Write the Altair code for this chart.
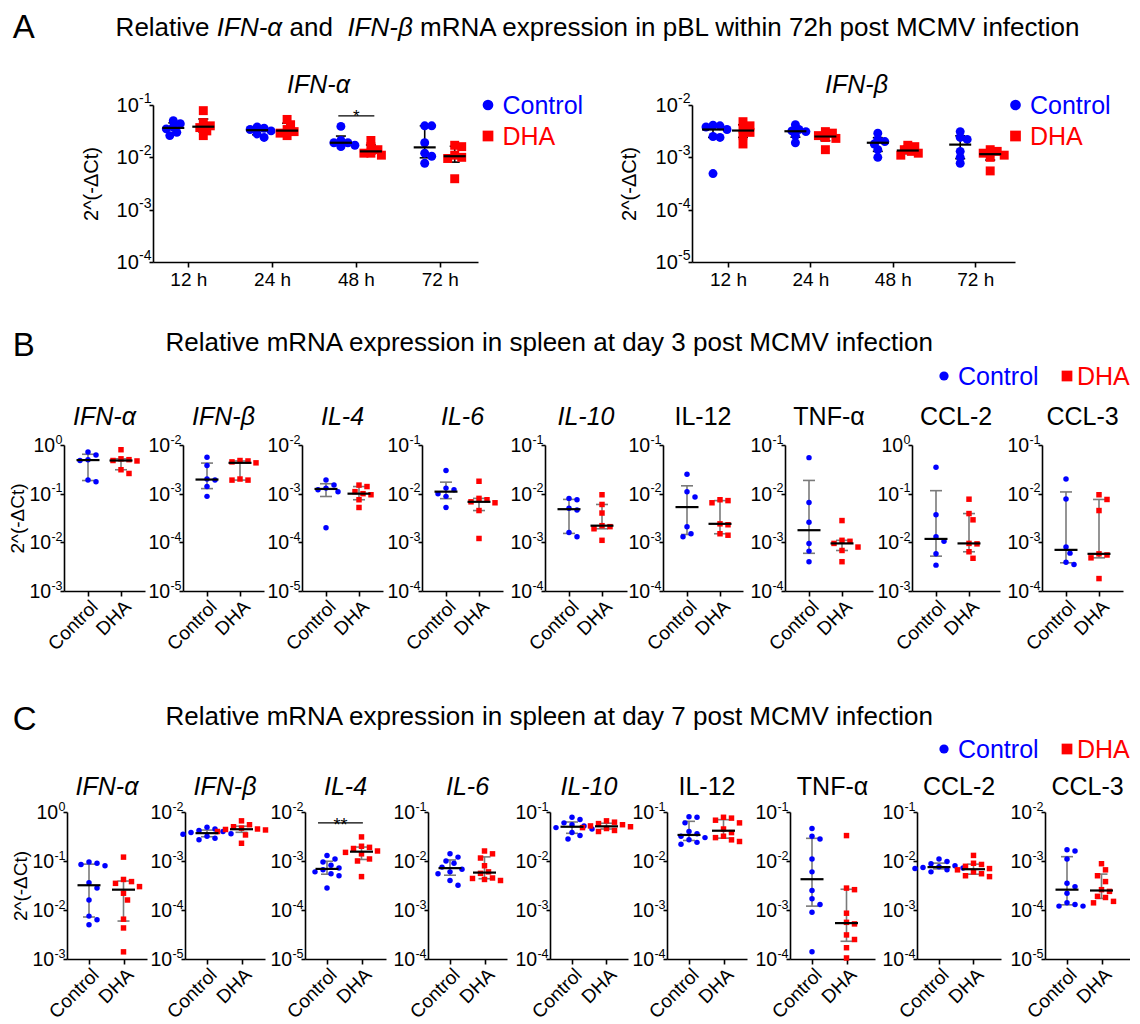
import math
import numpy as np
import pandas as pd
import altair as alt

FONT = "Liberation Sans, Arial, DejaVu Sans, sans-serif"

# ---------------- data ----------------
GROUPS = ["Control", "DHA"]
GROUP_COLORS = ["#0000FF", "#FF0000"]
GROUP_SHAPES = ["circle", "square"]
Y_TITLE = "2^(-ΔCt)"

A_TIMES = ["12 h", "24 h", "48 h", "72 h"]
A_GENES = ["IFN-α", "IFN-β"]
A_TOP_EXP = [-1, -2]
A_IFNA_CONTROL = [
    [0.050, 0.044, 0.038, 0.035, 0.030, 0.026],
    [0.038, 0.036, 0.034, 0.032, 0.028, 0.024],
    [0.039, 0.021, 0.019, 0.019, 0.017, 0.016],
    [0.040, 0.040, 0.019, 0.012, 0.0105, 0.0077],
]
A_IFNA_DHA = [
    [0.078, 0.046, 0.040, 0.037, 0.032, 0.026],
    [0.053, 0.042, 0.034, 0.031, 0.029, 0.026],
    [0.021, 0.016, 0.014, 0.012, 0.012, 0.011],
    [0.017, 0.016, 0.011, 0.010, 0.0095, 0.0039],
]
A_IFNB_CONTROL = [
    [0.0041, 0.0040, 0.0038, 0.0034, 0.0025, 0.0024, 0.00049],
    [0.0042, 0.0034, 0.0032, 0.0031, 0.0026, 0.0019],
    [0.0029, 0.0022, 0.0020, 0.0018, 0.0014, 0.0010],
    [0.0031, 0.0024, 0.0022, 0.0013, 0.0010, 0.00077],
]
A_IFNB_DHA = [
    [0.0048, 0.0040, 0.0035, 0.0030, 0.0026, 0.0018],
    [0.0031, 0.0029, 0.0026, 0.0024, 0.0023, 0.0014],
    [0.0017, 0.0016, 0.0014, 0.0013, 0.0012, 0.0011],
    [0.0014, 0.0013, 0.0012, 0.0011, 0.0010, 0.00055],
]
A_SIG_TIME = "48 h"
A_SIG_VALUE = 0.062
A_SIG_TEXT = "*"

GENES = ["IFN-α", "IFN-β", "IL-4", "IL-6", "IL-10", "IL-12", "TNF-α", "CCL-2", "CCL-3"]
GENE_ITALIC = [True, True, True, True, True, False, False, False, False]
B_TOP_EXP = [0, -2, -2, -1, -1, -1, -1, 0, -1]
C_TOP_EXP = [0, -2, -2, -1, -1, -1, -1, -1, -2]

B_CONTROL = [
    [0.72, 0.62, 0.50, 0.48, 0.19, 0.175],
    [0.0056, 0.0038, 0.0020, 0.0019, 0.0014, 0.00088],
    [0.0019, 0.0015, 0.0013, 0.0012, 0.0011, 0.0002],
    [0.030, 0.013, 0.012, 0.010, 0.0088, 0.0052],
    [0.0080, 0.0075, 0.0050, 0.0046, 0.0016, 0.0013],
    [0.025, 0.011, 0.0085, 0.0021, 0.0015, 0.0013],
    [0.055, 0.0066, 0.0026, 0.00095, 0.00066, 0.0004],
    [0.35, 0.037, 0.013, 0.0105, 0.0058, 0.0034],
    [0.020, 0.0078, 0.0008, 0.0006, 0.00039, 0.00035],
]
B_DHA = [
    [0.80, 0.52, 0.50, 0.48, 0.47, 0.31, 0.26],
    [0.0048, 0.0047, 0.0045, 0.0043, 0.0020, 0.0019, 0.0019],
    [0.0015, 0.0014, 0.0011, 0.0010, 0.00095, 0.00075, 0.00052],
    [0.018, 0.0080, 0.0075, 0.0068, 0.0065, 0.0045, 0.0012],
    [0.0095, 0.0060, 0.0040, 0.0022, 0.0021, 0.0019, 0.0011],
    [0.0075, 0.0072, 0.0065, 0.0024, 0.0023, 0.0015, 0.0014],
    [0.0028, 0.0011, 0.00105, 0.00095, 0.0008, 0.00068, 0.0004],
    [0.077, 0.039, 0.029, 0.0095, 0.0093, 0.0064, 0.0047],
    [0.0095, 0.0076, 0.0045, 0.00058, 0.00055, 0.00048, 0.00018],
]
C_CONTROL = [
    [0.095, 0.090, 0.085, 0.080, 0.036, 0.028, 0.016, 0.0075, 0.0063, 0.0050],
    [0.0049, 0.0045, 0.0042, 0.0040, 0.0038, 0.0036, 0.0035, 0.0032, 0.0029, 0.0027],
    [0.0013, 0.0011, 0.00095, 0.00082, 0.00072, 0.00066, 0.00060, 0.00055, 0.00050, 0.00028],
    [0.014, 0.012, 0.010, 0.0090, 0.0075, 0.0068, 0.0060, 0.0055, 0.0040, 0.0032],
    [0.078, 0.070, 0.060, 0.055, 0.052, 0.048, 0.045, 0.038, 0.033, 0.028],
    [0.080, 0.078, 0.060, 0.040, 0.036, 0.032, 0.030, 0.027, 0.024, 0.022],
    [0.046, 0.032, 0.028, 0.011, 0.0060, 0.0025, 0.0017, 0.0013, 0.0009, 0.00014],
    [0.011, 0.0098, 0.0088, 0.0080, 0.0076, 0.0074, 0.0072, 0.0070, 0.0066, 0.0060],
    [0.0017, 0.0016, 0.0011, 0.00035, 0.00030, 0.00022, 0.00014, 0.00013, 0.00012, 0.00012],
]
C_DHA = [
    [0.12, 0.042, 0.038, 0.035, 0.030, 0.022, 0.016, 0.0065, 0.0043, 0.0014],
    [0.0066, 0.0055, 0.0050, 0.0047, 0.0045, 0.0044, 0.0043, 0.0040, 0.0034, 0.0023],
    [0.0031, 0.0020, 0.0019, 0.0018, 0.0016, 0.0015, 0.0014, 0.0011, 0.0010, 0.00048],
    [0.016, 0.014, 0.0115, 0.0080, 0.0060, 0.0056, 0.0045, 0.0044, 0.0042, 0.0040],
    [0.066, 0.062, 0.058, 0.055, 0.052, 0.050, 0.048, 0.046, 0.042, 0.040],
    [0.078, 0.075, 0.068, 0.060, 0.045, 0.038, 0.032, 0.030, 0.027, 0.025],
    [0.033, 0.0028, 0.0026, 0.00086, 0.00056, 0.00052, 0.00031, 0.00025, 0.00017, 0.000105],
    [0.013, 0.0090, 0.0085, 0.0078, 0.0070, 0.0066, 0.0060, 0.0055, 0.0050, 0.0048],
    [0.00088, 0.00066, 0.00050, 0.00038, 0.00026, 0.00024, 0.00019, 0.00018, 0.00015, 0.00014],
]
C_SIG_GENE = "IL-4"
C_SIG_VALUE = 0.006
C_SIG_TEXT = "**"

PANEL_LETTERS = ["A", "B", "C"]
A_TITLE_PARTS = ["Relative", "IFN-α", "and", "IFN-β",
                 "mRNA expression in pBL within 72h post MCMV infection"]
A_TITLE_ITALIC = [False, True, False, True, False]
B_TITLE = "Relative mRNA expression in spleen at day 3 post MCMV infection"
C_TITLE = "Relative mRNA expression in spleen at day 7 post MCMV infection"

# ---------------- layout / style ----------------
A_TITLE_X = [51.6, 152.8, 225.6, 283.4, 356]
LETTER_X = -51.3
HEADER_W = 1000
A_ORIGINS = [89, 628]
A_WIDTHS = [325, 323]
A_PAD = [35.3, 36.0]
A_UNIT = [83.8, 82.4]
A_LEGEND_DX = [10, 0.5]
A_YTITLE_X = [-62, -63]
A_H = 157
B_ORIGINS = [0, 119, 238, 358, 481, 599, 721, 848, 978]
B_WIDTHS = [81, 81, 81, 81, 82, 80, 88, 88, 81]
C_ORIGINS = [3, 121, 241, 364, 486, 603, 726, 853, 981]
C_WIDTHS = [80, 80, 81, 79, 78, 80, 85, 84, 85]
B_H, C_H = 146, 147
ERR_GRAY = "#7a7a7a"
LEFT_ANCHOR = -56

GROUP_EXPR = "[" + ",".join("'%s'" % g for g in GROUPS) + "][datum.value]"
TIME_EXPR = "[" + ",".join("'%s'" % t for t in A_TIMES) + "][datum.value]"

ONE = pd.DataFrame({"k": [0]})


def swarm(vals, lo, hi, height, step, thr):
    ys = [(hi - math.log10(v)) / (hi - lo) * height for v in vals]
    order = sorted(range(len(vals)), key=lambda i: ys[i])
    cands = [0.0]
    for k in range(1, 9):
        cands += [k * 0.5 * step, -k * 0.5 * step]
    placed, offs = [], [0.0] * len(vals)
    for i in order:
        chosen = cands[-1]
        for c in cands:
            if all((c - px) ** 2 + (ys[i] - py) ** 2 >= (thr * step) ** 2 for px, py in placed):
                chosen = c
                break
        placed.append((chosen, ys[i]))
        offs[i] = chosen
    return offs


def y_axis(lo, hi, title, title_x, tsize=20):
    kw = dict(values=[10.0 ** e for e in range(lo, hi + 1)], labels=False, tickSize=4,
              domainColor="black", tickColor="black", domainWidth=1.6, tickWidth=1.6, grid=False)
    if title:
        kw.update(title=title, titleFontSize=tsize, titleFont=FONT, titleFontWeight="normal",
                  titleColor="black", titleX=title_x, titleBaseline="middle")
    else:
        kw["title"] = None
    return alt.Axis(**kw)


def ylabel_layers(lo, hi, ys, ya, main_fs, exp_fs, exp_dy, right):
    """Decade labels drawn as '10' with a raised, smaller exponent."""
    rows = []
    for e in range(lo, hi + 1):
        ex = str(e)
        ew = sum(0.556 if ch.isdigit() else 0.333 for ch in ex) * exp_fs
        rows.append({"v": 10.0 ** e, "ex": ex, "b": "10", "ew": round(ew, 1)})
    df = pd.DataFrame(rows)
    Y = alt.Y("v:Q", scale=ys, axis=ya)
    layers = [alt.Chart(df).mark_text(align="right", baseline="middle", fontSize=exp_fs, font=FONT,
                                      color="black", dy=exp_dy).encode(
        x=alt.value(right), y=Y, text="ex:N")]
    for ew in sorted(df["ew"].unique()):
        sub = df[df["ew"] == ew]
        layers.append(alt.Chart(sub).mark_text(align="right", baseline="middle", fontSize=main_fs,
                                               font=FONT, color="black", dy=1).encode(
            x=alt.value(right - ew - 0.3), y=Y, text="b:N"))
    return layers


def color_enc():
    return alt.Color("grp:N", scale=alt.Scale(domain=GROUPS, range=GROUP_COLORS), legend=None)


def shape_enc():
    return alt.Shape("grp:N", scale=alt.Scale(domain=GROUPS, range=GROUP_SHAPES), legend=None)


def err_layers(st, xs, ys, xa, ya, col, cap):
    X = alt.X("xc:Q", scale=xs, axis=xa)
    err = alt.Chart(st).mark_rule(color=col, strokeWidth=1.6).encode(
        x=X, y=alt.Y("q1:Q", scale=ys, axis=ya), y2="q3:Q")
    c1 = alt.Chart(st).mark_tick(orient="horizontal", size=cap, thickness=1.6, color=col, opacity=1).encode(
        x=X, y=alt.Y("q1:Q", scale=ys, axis=ya))
    c2 = alt.Chart(st).mark_tick(orient="horizontal", size=cap, thickness=1.6, color=col, opacity=1).encode(
        x=X, y=alt.Y("q3:Q", scale=ys, axis=ya))
    return [err, c1, c2]


def median_layer(st, xs, ys, xa, ya, medw):
    return alt.Chart(st).mark_tick(orient="horizontal", size=medw, thickness=2.2, color="black",
                                   opacity=1).encode(
        x=alt.X("xc:Q", scale=xs, axis=xa), y=alt.Y("med:Q", scale=ys, axis=ya))


def sig_layers(x1, x2, yv, text, xs, ys, xa, ya, fs, dy):
    d = pd.DataFrame({"x1": [x1], "x2": [x2], "xm": [(x1 + x2) / 2], "y": [yv], "t": [text]})
    rule = alt.Chart(d).mark_rule(color="black", strokeWidth=1.3).encode(
        x=alt.X("x1:Q", scale=xs, axis=xa), x2="x2:Q", y=alt.Y("y:Q", scale=ys, axis=ya))
    txt = alt.Chart(d).mark_text(fontSize=fs, font=FONT, baseline="alphabetic", align="center",
                                 dy=dy, color="black").encode(
        x=alt.X("xm:Q", scale=xs, axis=xa), y=alt.Y("y:Q", scale=ys, axis=ya), text="t:N")
    return [rule, txt]


def anchor(h, top, bot):
    return alt.Chart(ONE).mark_rule(opacity=0).encode(
        x=alt.value(0), y=alt.value(-top), y2=alt.value(h + bot))


def spacer(w):
    return alt.Chart(ONE).mark_point(opacity=0, size=1).encode(
        x=alt.value(0), y=alt.value(0)).properties(width=w, height=1)


def big_panel(ctrl, dha, top_exp, gene, idx, sig):
    lo, hi = top_exp - 3, top_exp
    w, pad, unit = A_WIDTHS[idx], A_PAD[idx], A_UNIT[idx]
    h = A_H
    xs = alt.Scale(domain=[-pad / unit, (w - pad) / unit], nice=False, zero=False)
    ys = alt.Scale(type="log", domain=[10.0 ** lo, 10.0 ** hi], nice=False)
    xa = alt.Axis(values=list(range(len(A_TIMES))), labelExpr=TIME_EXPR, labelAngle=0,
                  labelFontSize=19, labelFont=FONT, labelColor="black", labelOverlap=False,
                  labelFlush=False, labelPadding=3, tickSize=5, tickWidth=1.6, tickColor="black",
                  domainColor="black", domainWidth=1.6, grid=False, title=None)
    ya = y_axis(lo, hi, Y_TITLE, A_YTITLE_X[idx])
    pts, st = [], []
    for gi, series in enumerate([ctrl, dha]):
        shift = (2 * gi - 1) * 15.0
        for ti, vals in enumerate(series):
            offs = swarm(vals, lo, hi, h, 7.0, 0.8)
            for v, o in zip(vals, offs):
                pts.append({"grp": GROUPS[gi], "x": ti + (shift + o) / unit, "v": v})
            q1, md, q3 = np.percentile(vals, [25, 50, 75], method="weibull")
            st.append({"grp": GROUPS[gi], "xc": ti + shift / unit, "q1": q1, "med": md, "q3": q3})
    pts = pd.DataFrame(pts)
    st = pd.DataFrame(st)
    points = alt.Chart(pts).mark_point(filled=True, opacity=1, size=80).encode(
        x=alt.X("x:Q", scale=xs, axis=xa), y=alt.Y("v:Q", scale=ys, axis=ya),
        color=color_enc(), shape=shape_enc())
    layers = err_layers(st, xs, ys, xa, ya, "black", 10) + [points, median_layer(st, xs, ys, xa, ya, 22)]
    layers += ylabel_layers(lo, hi, ys, ya, 20, 14, -6, -1.5)
    if sig:
        ti = A_TIMES.index(A_SIG_TIME)
        layers += sig_layers(ti - 0.21, ti + 0.22, A_SIG_VALUE, A_SIG_TEXT, xs, ys, xa, ya, 17, 6)
    title = alt.Chart(pd.DataFrame({"t": [gene]})).mark_text(
        fontSize=25, font=FONT, fontStyle="italic", align="center", baseline="alphabetic",
        color="black").encode(x=alt.value(w / 2 + 3), y=alt.value(-12), text="t:N")
    layers.append(title)
    lx = w + A_LEGEND_DX[idx]
    for gi, g in enumerate(GROUPS):
        d = pd.DataFrame({"grp": [g]})
        layers.append(alt.Chart(d).mark_point(shape=GROUP_SHAPES[gi], filled=True, opacity=1,
                                              size=115, color=GROUP_COLORS[gi]).encode(
            x=alt.value(lx), y=alt.value(gi * 31)))
        layers.append(alt.Chart(d).mark_text(align="left", baseline="middle", fontSize=25, font=FONT,
                                             color=GROUP_COLORS[gi]).encode(
            x=alt.value(lx + 14.5), y=alt.value(gi * 31 + 1), text="grp:N"))
    layers.append(anchor(h, 35, 40))
    return alt.layer(*layers).properties(width=w, height=h)


def small_panel(ctrl, dha, top_exp, gene, italic, w, h, pad, unit, title_dy, ytitle, top, bot, sig=None):
    lo, hi = top_exp - 3, top_exp
    xs = alt.Scale(domain=[-pad / unit, (w - pad) / unit], nice=False, zero=False)
    ys = alt.Scale(type="log", domain=[10.0 ** lo, 10.0 ** hi], nice=False)
    xa = alt.Axis(values=[0, 1], labelExpr=GROUP_EXPR, labelAngle=-45, labelFontSize=19,
                  labelFont=FONT, labelColor="black", labelOverlap=False, labelFlush=False,
                  labelPadding=1, tickSize=5, tickWidth=1.6, tickColor="black",
                  domainColor="black", domainWidth=1.6, grid=False, title=None)
    ya = y_axis(lo, hi, Y_TITLE if ytitle else None, -46.5, tsize=19)
    pts, st = [], []
    for gi, vals in enumerate([ctrl, dha]):
        offs = swarm(vals, lo, hi, h, 8.0, 0.9)
        for v, o in zip(vals, offs):
            pts.append({"grp": GROUPS[gi], "x": gi + o / unit, "v": v})
        q1, md, q3 = np.percentile(vals, [25, 50, 75], method="weibull")
        st.append({"grp": GROUPS[gi], "xc": float(gi), "q1": q1, "med": md, "q3": q3})
    pts = pd.DataFrame(pts)
    st = pd.DataFrame(st)
    points = alt.Chart(pts).mark_point(filled=True, opacity=1, size=30).encode(
        x=alt.X("x:Q", scale=xs, axis=xa), y=alt.Y("v:Q", scale=ys, axis=ya),
        color=color_enc(), shape=shape_enc())
    layers = err_layers(st, xs, ys, xa, ya, ERR_GRAY, 12) + [points, median_layer(st, xs, ys, xa, ya, 23)]
    layers += ylabel_layers(lo, hi, ys, ya, 19.5, 12.5, -5.5, -1.5)
    if sig is not None:
        layers += sig_layers(-0.26, 1.04, sig[0], sig[1], xs, ys, xa, ya, 18, 8)
    title = alt.Chart(pd.DataFrame({"t": [gene]})).mark_text(
        fontSize=25, font=FONT, fontStyle="italic" if italic else "normal", align="center",
        baseline="alphabetic", color="black").encode(
        x=alt.value(w / 2), y=alt.value(-title_dy), text="t:N")
    layers.append(title)
    layers.append(anchor(h, top, bot))
    return alt.layer(*layers).properties(width=w, height=h)


def place_row(panels, origins, widths):
    items, cur = [], 0
    for p, o, w in zip(panels, origins, widths):
        if o - cur > 0:
            items.append(spacer(o - cur))
        items.append(p)
        cur = o + w
    return alt.hconcat(*items, spacing=0, bounds="flush")


def header(height, letter, letter_y, parts, italics, xs_, title_y, legend_y=None, pin=False):
    layers = [alt.Chart(pd.DataFrame({"t": [letter]})).mark_text(
        align="left", baseline="middle", fontSize=33, font=FONT, color="black").encode(
        x=alt.value(LETTER_X), y=alt.value(letter_y), text="t:N")]
    for txt, it, x0 in zip(parts, italics, xs_):
        layers.append(alt.Chart(pd.DataFrame({"t": [txt]})).mark_text(
            align="left", baseline="middle", fontSize=26, font=FONT,
            fontStyle="italic" if it else "normal", color="black").encode(
            x=alt.value(x0), y=alt.value(title_y), text="t:N"))
    if legend_y is not None:
        lx = [880, 1003]
        for gi, g in enumerate(GROUPS):
            d = pd.DataFrame({"grp": [g]})
            layers.append(alt.Chart(d).mark_point(shape=GROUP_SHAPES[gi], filled=True, opacity=1,
                                                  size=85 if gi == 0 else 115,
                                                  color=GROUP_COLORS[gi]).encode(
                x=alt.value(lx[gi]), y=alt.value(legend_y)))
            layers.append(alt.Chart(d).mark_text(align="left", baseline="middle", fontSize=25,
                                                 font=FONT, color=GROUP_COLORS[gi]).encode(
                x=alt.value(lx[gi] + (14 if gi == 0 else 10)), y=alt.value(legend_y + 1), text="grp:N"))
    if pin:
        layers.append(alt.Chart(ONE).mark_rule(opacity=0).encode(
            x=alt.value(LEFT_ANCHOR), y=alt.value(1), y2=alt.value(2)))
    return alt.layer(*layers).properties(width=HEADER_W, height=height)


# ---------------- build ----------------
hA = header(62, PANEL_LETTERS[0], 19.8, A_TITLE_PARTS, A_TITLE_ITALIC, A_TITLE_X, 19.9, pin=True)
a1 = big_panel(A_IFNA_CONTROL, A_IFNA_DHA, A_TOP_EXP[0], A_GENES[0], 0, True)
a2 = big_panel(A_IFNB_CONTROL, A_IFNB_DHA, A_TOP_EXP[1], A_GENES[1], 1, False)
rowA = place_row([a1, a2], A_ORIGINS, A_WIDTHS)

hB = header(98, PANEL_LETTERS[1], 44, [B_TITLE], [False], [101.5], 41, legend_y=74)
b_panels = [small_panel(B_CONTROL[i], B_DHA[i], B_TOP_EXP[i], GENES[i], GENE_ITALIC[i],
                        B_WIDTHS[i], B_H, 24, 33, 20, i == 0, 45, 66)
            for i in range(len(GENES))]
rowB = place_row(b_panels, B_ORIGINS, B_WIDTHS)

hC = header(110, PANEL_LETTERS[2], 63, [C_TITLE], [False], [101.5], 60, legend_y=92)
c_panels = []
for i in range(len(GENES)):
    sig = (C_SIG_VALUE, C_SIG_TEXT) if GENES[i] == C_SIG_GENE else None
    c_panels.append(small_panel(C_CONTROL[i], C_DHA[i], C_TOP_EXP[i], GENES[i], GENE_ITALIC[i],
                                C_WIDTHS[i], C_H, 22, 34.5, 17, i == 0, 45, 0, sig))
rowC = place_row(c_panels, C_ORIGINS, C_WIDTHS)

chart = alt.vconcat(hA, rowA, hB, rowB, hC, rowC, spacing=0, padding=0).configure_view(
    stroke=None).configure_axis(labelFont=FONT, titleFont=FONT)

chart.save("out.html", embed_options={"renderer": "svg", "actions": False})
